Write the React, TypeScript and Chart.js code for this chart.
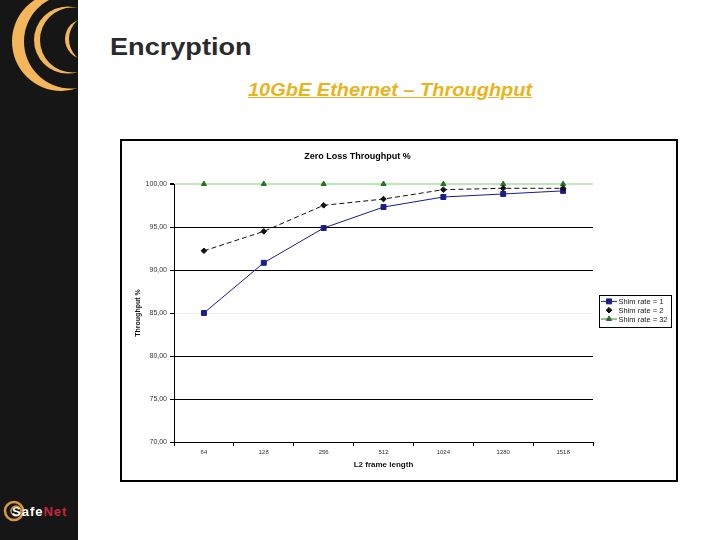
import React, { useEffect, useRef } from "react";
import { Chart, registerables } from "chart.js";
import { drawPoint } from "chart.js/helpers";

Chart.register(...registerables);

const categories = ["64", "128", "256", "512", "1024", "1280", "1518"];
const shimRate1 = [85.0, 90.84, 94.88, 97.32, 98.49, 98.84, 99.2];
const shimRate2 = [92.23, 94.49, 97.52, 98.25, 99.34, 99.5, 99.5];
const shimRate32 = [100, 100, 100, 100, 100, 100, 100];
const seriesLabels = ["Shim rate = 1", "Shim rate = 2", "Shim rate = 32"];
const yMin = 70;
const yMax = 100;
const yStep = 5;

const FONT = '"Liberation Sans", Arial, sans-serif';

const boxLegend = {
  id: "boxLegend",
  afterDraw(chart: any) {
    const { ctx, chartArea } = chart;
    const ds = chart.data.datasets;
    const rowH = 8.8;
    ctx.save();
    ctx.font = `7.5px ${FONT}`;
    const textW = Math.max(...ds.map((d: any) => ctx.measureText(d.label).width));
    const x0 = Math.round(chartArea.right + 6) + 0.5;
    const w = Math.round(19 + textW + 4);
    const h = Math.round(rowH * ds.length + 5.5);
    const cy = (chartArea.top + chartArea.bottom) / 2 - 2;
    const y0 = Math.round(cy - h / 2) + 0.5;
    ctx.fillStyle = "#fff";
    ctx.fillRect(x0, y0, w, h);
    ctx.strokeStyle = "#000";
    ctx.lineWidth = 1;
    ctx.strokeRect(x0, y0, w, h);
    ds.forEach((d: any, i: number) => {
      const y = y0 + 1.5 + rowH * (i + 0.5);
      if (!d.borderDash || d.borderDash.length === 0) {
        ctx.strokeStyle = d.legendLineColor || d.borderColor;
        ctx.lineWidth = 1;
        ctx.beginPath();
        ctx.moveTo(x0 + 1.5, y);
        ctx.lineTo(x0 + 17.5, y);
        ctx.stroke();
      }
      ctx.fillStyle = d.pointBackgroundColor;
      ctx.strokeStyle = d.pointBorderColor;
      drawPoint(ctx, { pointStyle: d.pointStyle, radius: d.pointRadius, rotation: 0, borderWidth: 1 } as any, x0 + 9.5, y);
      ctx.fillStyle = "#222";
      ctx.textBaseline = "middle";
      ctx.textAlign = "left";
      ctx.fillText(d.label, x0 + 19, y + 0.5);
    });
    ctx.restore();
  },
};

function ThroughputChart() {
  const ref = useRef<HTMLCanvasElement | null>(null);
  useEffect(() => {
    if (!ref.current) return;
    const chart = new Chart(ref.current, {
      type: "line",
      data: {
        labels: categories,
        datasets: [
          {
            label: seriesLabels[0],
            data: shimRate1,
            borderColor: "#1c1c8a",
            borderWidth: 1,
            pointStyle: "rect",
            pointRadius: 3.5,
            pointBackgroundColor: "#1c1c8a",
            pointBorderColor: "#1c1c8a",
            pointBorderWidth: 1,
            tension: 0,
            clip: false,
            order: 2,
          } as any,
          {
            label: seriesLabels[1],
            data: shimRate2,
            borderColor: "#111",
            borderWidth: 1,
            borderDash: [5, 3],
            pointStyle: "rectRot",
            pointRadius: 2.8,
            pointBackgroundColor: "#111",
            pointBorderColor: "#111",
            pointBorderWidth: 1,
            tension: 0,
            clip: false,
            order: 1,
          } as any,
          {
            label: seriesLabels[2],
            data: shimRate32,
            borderColor: "#b9e8b0",
            legendLineColor: "#3a7a3a",
            borderWidth: 1.5,
            pointStyle: "triangle",
            pointRadius: 3,
            pointBackgroundColor: "#2f6b2f",
            pointBorderColor: "#2f6b2f",
            pointBorderWidth: 1,
            tension: 0,
            clip: false,
            order: 3,
          } as any,
        ],
      },
      options: {
        responsive: false,
        devicePixelRatio: 1,
        animation: false,
        layout: { padding: { top: 0, left: 0, right: 83, bottom: 0 } },
        plugins: {
          legend: { display: false },
          tooltip: { enabled: false },
          title: {
            display: true,
            text: "Zero Loss Throughput %",
            color: "#000",
            font: { family: FONT, size: 9, weight: "bold" },
            padding: { top: 10.6, bottom: 21.6 },
          },
        },
        scales: {
          x: {
            type: "category",
            offset: true,
            afterFit: (s: any) => {
              s.height = 38;
            },
            border: { display: true, color: "#000", width: 1 },
            grid: {
              offset: true,
              drawOnChartArea: false,
              drawTicks: true,
              tickLength: 4,
              color: "#000",
            },
            ticks: {
              color: "#333",
              font: { family: FONT, size: 6 },
              padding: 3,
              maxRotation: 0,
              autoSkip: false,
            },
            title: {
              display: true,
              text: "L2 frame length",
              color: "#111",
              font: { family: FONT, size: 8, weight: "bold" },
              padding: { top: 0, bottom: 10.7 },
            },
          },
          y: {
            min: yMin,
            max: yMax,
            afterFit: (s: any) => {
              s.width = 52;
            },
            border: { display: true, color: "#000", width: 1 },
            grid: {
              color: (c: any) =>
                c.tick && c.tick.value === 100 ? "#c4ecbb" : c.tick && c.tick.value === 85 ? "#ececec" : "#000",
              lineWidth: (c: any) => (c.tick && c.tick.value === 100 ? 2 : 1),
              tickColor: "#000",
              tickLength: 4,
              drawTicks: true,
            },
            ticks: {
              stepSize: yStep,
              color: "#333",
              font: { family: FONT, size: 7 },
              padding: 3,
              callback: (v: any) => Number(v).toFixed(2).replace(".", ","),
            },
            title: {
              display: true,
              text: "Throughput %",
              color: "#111",
              font: { family: FONT, size: 7, weight: "bold" },
              padding: { top: 11.8, bottom: 0 },
            },
          },
        },
      },
      plugins: [boxLegend],
    } as any);
    return () => chart.destroy();
  }, []);
  return <canvas ref={ref} width={554} height={339} style={{ display: "block" }} />;
}

function circlePath(cx: number, cy: number, r: number) {
  return `M ${cx - r} ${cy} A ${r} ${r} 0 1 0 ${cx + r} ${cy} A ${r} ${r} 0 1 0 ${cx - r} ${cy} Z`;
}

export default function App() {
  return (
    <div
      style={{
        position: "fixed",
        left: 0,
        top: 0,
        width: 720,
        height: 540,
        background: "#fff",
        overflow: "hidden",
        fontFamily: FONT,
      }}
    >
      <div style={{ position: "absolute", left: 0, top: 0, width: 78, height: 540, background: "#161616", overflow: "hidden" }}>
        <svg width={78} height={540} style={{ display: "block" }}>
          <path fillRule="evenodd" fill="#f3b65a" d={circlePath(61.4, 41.5, 49.4) + " " + circlePath(71, 41.5, 47)} />
          <path fillRule="evenodd" fill="#f3b65a" d={circlePath(67.6, 40, 33.6) + " " + circlePath(72.5, 40, 32.5)} />
          <path fillRule="evenodd" fill="#f3b65a" d={circlePath(85.4, 39, 20.4) + " " + circlePath(93.6, 39, 24.6)} />
          <circle cx={14} cy={511} r={9} fill="none" stroke="#d99a3e" strokeWidth={2.5} />
          <circle cx={16} cy={511} r={5} fill="none" stroke="#d99a3e" strokeWidth={1.5} />
          <text x={12} y={516} fontFamily={FONT} fontWeight="bold" fontSize={13} letterSpacing={1}>
            <tspan fill="#fff">Safe</tspan>
            <tspan fill="#c8283c">Net</tspan>
          </text>
        </svg>
      </div>
      <div
        style={{
          position: "absolute",
          left: 110,
          top: 34.7,
          fontSize: 24,
          lineHeight: "24px",
          fontWeight: "bold",
          color: "#2b2b2b",
          whiteSpace: "nowrap",
          transform: "scaleX(1.13)",
          transformOrigin: "0 0",
        }}
      >
        Encryption
      </div>
      <div
        style={{
          position: "absolute",
          left: 248,
          top: 79.7,
          fontSize: 18.5,
          lineHeight: "19px",
          fontWeight: "bold",
          fontStyle: "italic",
          textDecoration: "underline",
          color: "#e8b41e",
          whiteSpace: "nowrap",
          transform: "scaleX(1.08)",
          transformOrigin: "0 0",
        }}
      >
        10GbE Ethernet – Throughput
      </div>
      <div
        style={{
          position: "absolute",
          left: 120,
          top: 139,
          width: 558,
          height: 343,
          border: "2px solid #000",
          boxSizing: "border-box",
          background: "#fff",
        }}
      >
        <ThroughputChart />
      </div>
    </div>
  );
}
